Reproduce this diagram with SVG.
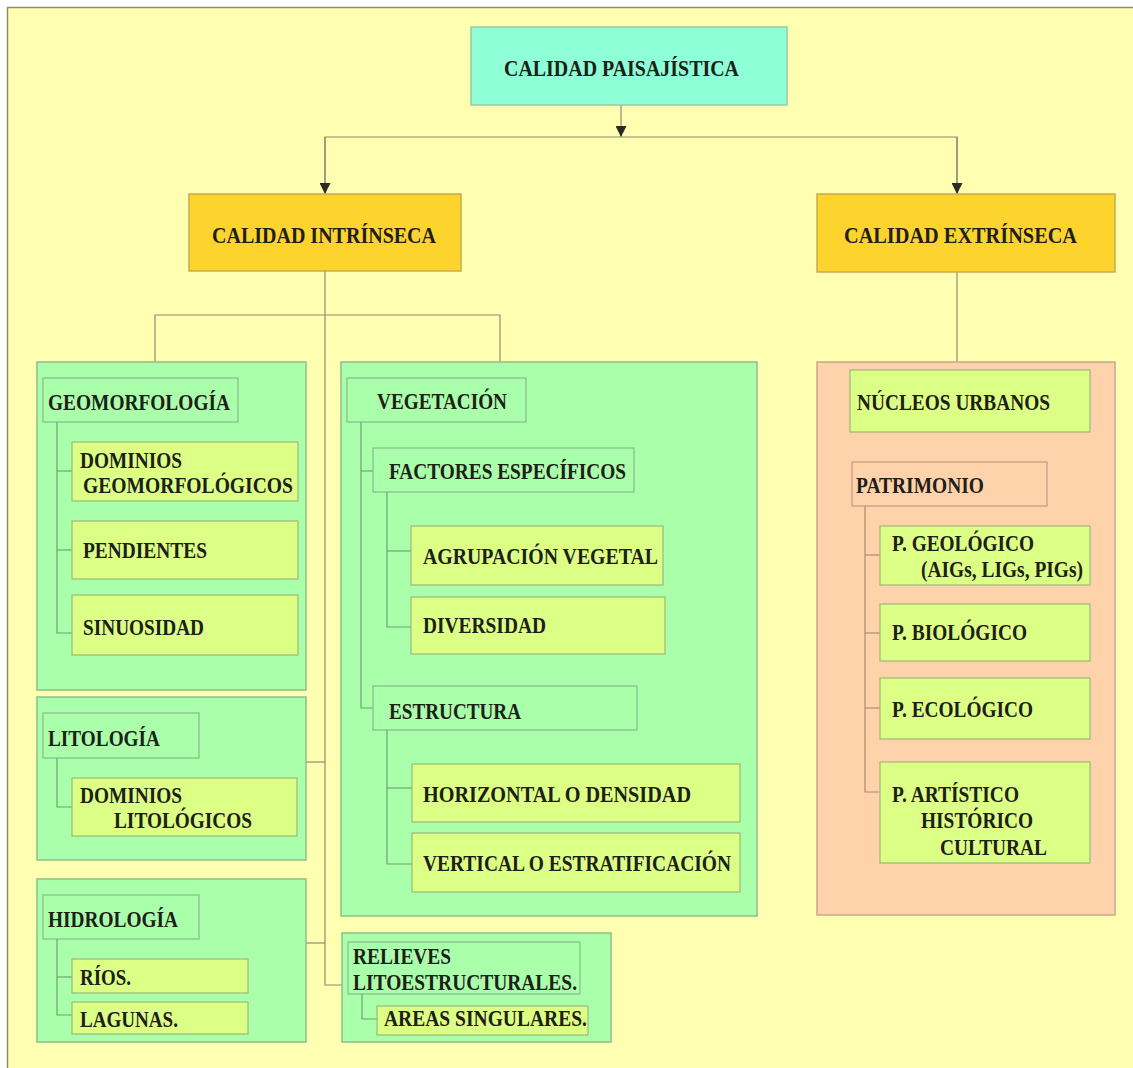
<svg xmlns="http://www.w3.org/2000/svg" width="1133" height="1068" viewBox="0 0 1133 1068">
  <defs>
    <marker id="arrow" viewBox="0 0 10 10" refX="10" refY="5" markerWidth="11" markerHeight="11" markerUnits="userSpaceOnUse" orient="auto">
      <path d="M0,0 L10,5 L0,10 Z" fill="#2a2a22"/>
    </marker>
  </defs>
  <style>
    .bg { fill: #ffffb2; stroke: #8f8a70; stroke-width: 1.5; }
    .top { fill: #8effd6; stroke: #9cc8a8; stroke-width: 1.5; }
    .gold { fill: #fdd32e; stroke: #c8aa50; stroke-width: 1.5; }
    .panel { fill: #aaffaa; stroke: #8cc08c; stroke-width: 1.5; }
    .peach { fill: #fed2aa; stroke: #c8a890; stroke-width: 1.5; }
    .hdr { fill: none; stroke: #88b890; stroke-width: 1.2; }
    .hdrp { fill: none; stroke: #c09a80; stroke-width: 1.2; }
    .item { fill: #dcff86; stroke: #9cb87a; stroke-width: 1.2; }
    .ln { fill: none; stroke: #8f8a72; stroke-width: 1.2; }
    .lng { fill: none; stroke: #70a078; stroke-width: 1.2; }
    .lnp { fill: none; stroke: #b08a70; stroke-width: 1.2; }
    text { font-family: "Liberation Serif", "Times New Roman", serif; font-weight: bold; font-size: 23px; fill: #1e2018; }
  </style>

  <!-- page -->
  <rect x="0" y="0" width="1133" height="1068" fill="#ffffff"/>
  <rect class="bg" x="7.5" y="7.5" width="1130" height="1065"/>

  <!-- connectors between top-level blocks -->
  <g id="connectors">
    <line class="ln" x1="621" y1="105" x2="621" y2="137" marker-end="url(#arrow)"/>
    <polyline class="ln" points="325,194 325,137 957,137 957,194"/>
    <line class="ln" x1="325" y1="137" x2="325" y2="194" marker-end="url(#arrow)"/>
    <line class="ln" x1="957" y1="137" x2="957" y2="194" marker-end="url(#arrow)"/>
    <!-- intrinsic trunk -->
    <polyline class="ln" points="325,271 325,985 348,985"/>
    <polyline class="ln" points="155,362 155,315 500,315 500,362"/>
    <line class="ln" x1="306" y1="762" x2="325" y2="762"/>
    <line class="ln" x1="306" y1="943" x2="325" y2="943"/>
    <!-- extrinsic trunk -->
    <line class="ln" x1="957" y1="272" x2="957" y2="362"/>
  </g>

  <!-- top node -->
  <g id="calidad-paisajistica">
    <rect class="top" x="471" y="27" width="316" height="78"/>
    <text x="504" y="76" textLength="235" lengthAdjust="spacingAndGlyphs">CALIDAD  PAISAJÍSTICA</text>
  </g>

  <g id="calidad-intrinseca">
    <rect class="gold" x="189" y="194" width="272" height="77"/>
    <text x="212" y="243" textLength="224" lengthAdjust="spacingAndGlyphs">CALIDAD  INTRÍNSECA</text>
  </g>

  <g id="calidad-extrinseca">
    <rect class="gold" x="817" y="194" width="298" height="78"/>
    <text x="844" y="243" textLength="233" lengthAdjust="spacingAndGlyphs">CALIDAD   EXTRÍNSECA</text>
  </g>

  <!-- Geomorfología -->
  <g id="geomorfologia">
    <rect class="panel" x="37" y="362" width="269" height="328"/>
    <rect class="hdr" x="43" y="378" width="195" height="44"/>
    <text x="48" y="410" textLength="182" lengthAdjust="spacingAndGlyphs">GEOMORFOLOGÍA</text>
    <polyline class="lng" points="57,422 57,633 72,633"/>
    <line class="lng" x1="57" y1="471" x2="72" y2="471"/>
    <line class="lng" x1="57" y1="550" x2="72" y2="550"/>
    <rect class="item" x="72" y="442" width="226" height="59"/>
    <text x="80" y="468" textLength="102" lengthAdjust="spacingAndGlyphs">DOMINIOS</text>
    <text x="83" y="493" textLength="210" lengthAdjust="spacingAndGlyphs">GEOMORFOLÓGICOS</text>
    <rect class="item" x="72" y="521" width="226" height="58"/>
    <text x="83" y="558" textLength="124" lengthAdjust="spacingAndGlyphs">PENDIENTES</text>
    <rect class="item" x="72" y="595" width="226" height="60"/>
    <text x="83" y="635" textLength="121" lengthAdjust="spacingAndGlyphs">SINUOSIDAD</text>
  </g>

  <!-- Litología -->
  <g id="litologia">
    <rect class="panel" x="37" y="697" width="269" height="163"/>
    <rect class="hdr" x="43" y="713" width="156" height="45"/>
    <text x="48" y="746" textLength="112" lengthAdjust="spacingAndGlyphs">LITOLOGÍA</text>
    <polyline class="lng" points="57,758 57,807 72,807"/>
    <rect class="item" x="72" y="778" width="225" height="58"/>
    <text x="80" y="803" textLength="102" lengthAdjust="spacingAndGlyphs">DOMINIOS</text>
    <text x="114" y="828" textLength="138" lengthAdjust="spacingAndGlyphs">LITOLÓGICOS</text>
  </g>

  <!-- Hidrología -->
  <g id="hidrologia">
    <rect class="panel" x="37" y="879" width="269" height="163"/>
    <rect class="hdr" x="43" y="895" width="156" height="44"/>
    <text x="48" y="927" textLength="130" lengthAdjust="spacingAndGlyphs">HIDROLOGÍA</text>
    <polyline class="lng" points="57,939 57,1015 72,1015"/>
    <line class="lng" x1="57" y1="977" x2="72" y2="977"/>
    <rect class="item" x="72" y="959" width="176" height="34"/>
    <text x="80" y="985" textLength="51" lengthAdjust="spacingAndGlyphs">RÍOS.</text>
    <rect class="item" x="72" y="1002" width="176" height="32"/>
    <text x="80" y="1027" textLength="98" lengthAdjust="spacingAndGlyphs">LAGUNAS.</text>
  </g>

  <!-- Vegetación -->
  <g id="vegetacion">
    <rect class="panel" x="341" y="362" width="416" height="554"/>
    <rect class="hdr" x="347" y="378" width="179" height="44"/>
    <text x="377" y="409" textLength="130" lengthAdjust="spacingAndGlyphs">VEGETACIÓN</text>
    <polyline class="lng" points="361,422 361,708 373,708"/>
    <line class="lng" x1="361" y1="471" x2="373" y2="471"/>

    <rect class="hdr" x="373" y="448" width="261" height="44"/>
    <text x="389" y="479" textLength="237" lengthAdjust="spacingAndGlyphs">FACTORES ESPECÍFICOS</text>
    <polyline class="lng" points="387,492 387,627 411,627"/>
    <line class="lng" x1="387" y1="551" x2="411" y2="551"/>
    <rect class="item" x="411" y="526" width="252" height="59"/>
    <text x="423" y="564" textLength="235" lengthAdjust="spacingAndGlyphs">AGRUPACIÓN  VEGETAL</text>
    <rect class="item" x="411" y="597" width="254" height="57"/>
    <text x="423" y="633" textLength="123" lengthAdjust="spacingAndGlyphs">DIVERSIDAD</text>

    <rect class="hdr" x="373" y="686" width="264" height="44"/>
    <text x="389" y="719" textLength="132" lengthAdjust="spacingAndGlyphs">ESTRUCTURA</text>
    <polyline class="lng" points="387,730 387,864 412,864"/>
    <line class="lng" x1="387" y1="788" x2="412" y2="788"/>
    <rect class="item" x="412" y="764" width="328" height="58"/>
    <text x="423" y="802" textLength="268" lengthAdjust="spacingAndGlyphs">HORIZONTAL  O  DENSIDAD</text>
    <rect class="item" x="412" y="833" width="328" height="59"/>
    <text x="423" y="871" textLength="308" lengthAdjust="spacingAndGlyphs">VERTICAL O ESTRATIFICACIÓN</text>
  </g>

  <!-- Relieves litoestructurales -->
  <g id="relieves">
    <rect class="panel" x="342" y="933" width="269" height="109"/>
    <rect class="hdr" x="348" y="942" width="232" height="52"/>
    <text x="353" y="964" textLength="98" lengthAdjust="spacingAndGlyphs">RELIEVES</text>
    <text x="353" y="990" textLength="224" lengthAdjust="spacingAndGlyphs">LITOESTRUCTURALES.</text>
    <polyline class="lng" points="362,994 362,1019 377,1019"/>
    <rect class="item" x="377" y="1006" width="211" height="29"/>
    <text x="384" y="1026" textLength="203" lengthAdjust="spacingAndGlyphs">AREAS SINGULARES.</text>
  </g>

  <!-- Extrínseca detail -->
  <g id="extrinseca-detalle">
    <rect class="peach" x="817" y="362" width="298" height="553"/>
  </g>

  <g id="nucleos-urbanos">
    <rect class="item" x="850" y="370" width="240" height="62"/>
    <text x="857" y="410" textLength="193" lengthAdjust="spacingAndGlyphs">NÚCLEOS URBANOS</text>
  </g>

  <g id="patrimonio">
    <rect class="hdrp" x="852" y="462" width="195" height="44"/>
    <text x="856" y="493" textLength="128" lengthAdjust="spacingAndGlyphs">PATRIMONIO</text>
    <polyline class="lnp" points="865,506 865,792 880,792"/>
    <line class="lnp" x1="865" y1="555" x2="880" y2="555"/>
    <line class="lnp" x1="865" y1="633" x2="880" y2="633"/>
    <line class="lnp" x1="865" y1="708" x2="880" y2="708"/>

    <rect class="item" x="880" y="526" width="210" height="59"/>
    <text x="892" y="551" textLength="142" lengthAdjust="spacingAndGlyphs">P. GEOLÓGICO</text>
    <text x="921" y="577" textLength="162" lengthAdjust="spacingAndGlyphs">(AIGs, LIGs, PIGs)</text>

    <rect class="item" x="880" y="604" width="210" height="57"/>
    <text x="892" y="640" textLength="135" lengthAdjust="spacingAndGlyphs">P. BIOLÓGICO</text>

    <rect class="item" x="880" y="678" width="210" height="61"/>
    <text x="892" y="717" textLength="141" lengthAdjust="spacingAndGlyphs">P. ECOLÓGICO</text>

    <rect class="item" x="880" y="762" width="210" height="101"/>
    <text x="892" y="802" textLength="127" lengthAdjust="spacingAndGlyphs">P. ARTÍSTICO</text>
    <text x="921" y="828" textLength="112" lengthAdjust="spacingAndGlyphs">HISTÓRICO</text>
    <text x="940" y="855" textLength="107" lengthAdjust="spacingAndGlyphs">CULTURAL</text>
  </g>
</svg>
